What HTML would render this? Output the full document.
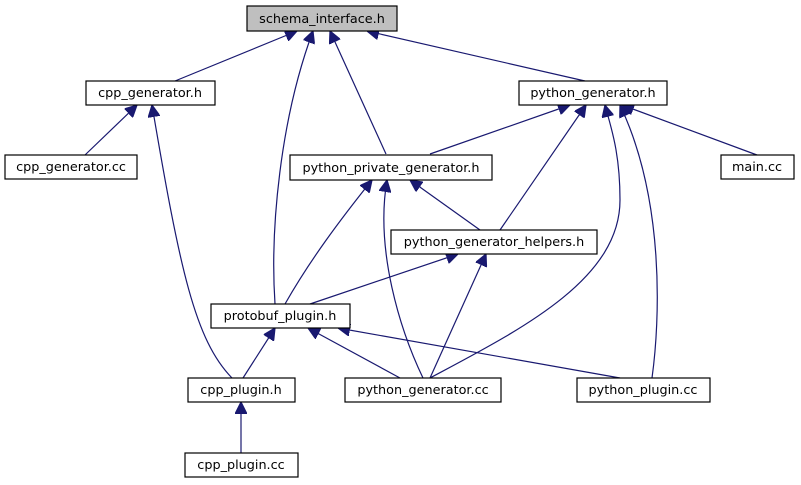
<!DOCTYPE html>
<html><head><meta charset="utf-8"><style>
html,body{margin:0;padding:0;background:#fff}
svg{display:block}
text{font-family:"DejaVu Sans","Liberation Sans",sans-serif;font-size:12.8px;fill:#000}
</style></head><body>
<svg width="801" height="485" viewBox="0 0 801 485" xmlns="http://www.w3.org/2000/svg">
<defs><marker id="a" viewBox="0 0 10 10" refX="10" refY="5" markerWidth="12" markerHeight="12" markerUnits="userSpaceOnUse" orient="auto"><path d="M0,0 L10,5 L0,10 z" fill="#191970" stroke="#191970"/></marker></defs>
<g fill="none" stroke="#191970" stroke-width="1.2" marker-end="url(#a)">
<path d="M175,81 L297,31"/>
<path d="M275,304 C270,230 280,120 313,31"/>
<path d="M386,154 L330,31"/>
<path d="M585,81 L367,31"/>
<path d="M85,155 L137,105"/>
<path d="M232,378 C195,340 180,270 152,105"/>
<path d="M430,154 L570,105"/>
<path d="M500,230 L586,105"/>
<path d="M430,378 C520,330 620,280 620,200 C620,150 610,125 605,105"/>
<path d="M652,378 C660,320 665,200 620,105"/>
<path d="M757,155 L622,105"/>
<path d="M285,304 C310,260 340,220 372,180"/>
<path d="M423,378 C400,330 375,250 387,180"/>
<path d="M480,230 L410,180"/>
<path d="M310,304 L458,254"/>
<path d="M430,378 L486,254"/>
<path d="M243,378 L275,328"/>
<path d="M400,378 L308,328"/>
<path d="M620,378 L338,328"/>
<path d="M241,453 L241,402"/>
</g>
<g stroke="#000" stroke-width="1.2">
<rect x="247" y="6" width="150" height="25" fill="#bfbfbf"/>
<rect x="86" y="81" width="129" height="24" fill="#fff"/>
<rect x="519" y="81" width="148" height="24" fill="#fff"/>
<rect x="5" y="155" width="132" height="24" fill="#fff"/>
<rect x="290" y="155" width="202" height="25" fill="#fff"/>
<rect x="721" y="155" width="73" height="24" fill="#fff"/>
<rect x="391" y="230" width="206" height="24" fill="#fff"/>
<rect x="211" y="304" width="139" height="24" fill="#fff"/>
<rect x="188" y="378" width="107" height="24" fill="#fff"/>
<rect x="345" y="378" width="156" height="24" fill="#fff"/>
<rect x="577" y="378" width="133" height="24" fill="#fff"/>
<rect x="185" y="453" width="113" height="24" fill="#fff"/>
</g>
<g text-anchor="middle">
<text x="322" y="23">schema_interface.h</text>
<text x="150" y="97">cpp_generator.h</text>
<text x="593" y="97">python_generator.h</text>
<text x="71" y="171">cpp_generator.cc</text>
<text x="391" y="172">python_private_generator.h</text>
<text x="757" y="171">main.cc</text>
<text x="494" y="246">python_generator_helpers.h</text>
<text x="280" y="320">protobuf_plugin.h</text>
<text x="241" y="394">cpp_plugin.h</text>
<text x="423" y="394">python_generator.cc</text>
<text x="643" y="394">python_plugin.cc</text>
<text x="241" y="469">cpp_plugin.cc</text>
</g>
</svg>
</body></html>
